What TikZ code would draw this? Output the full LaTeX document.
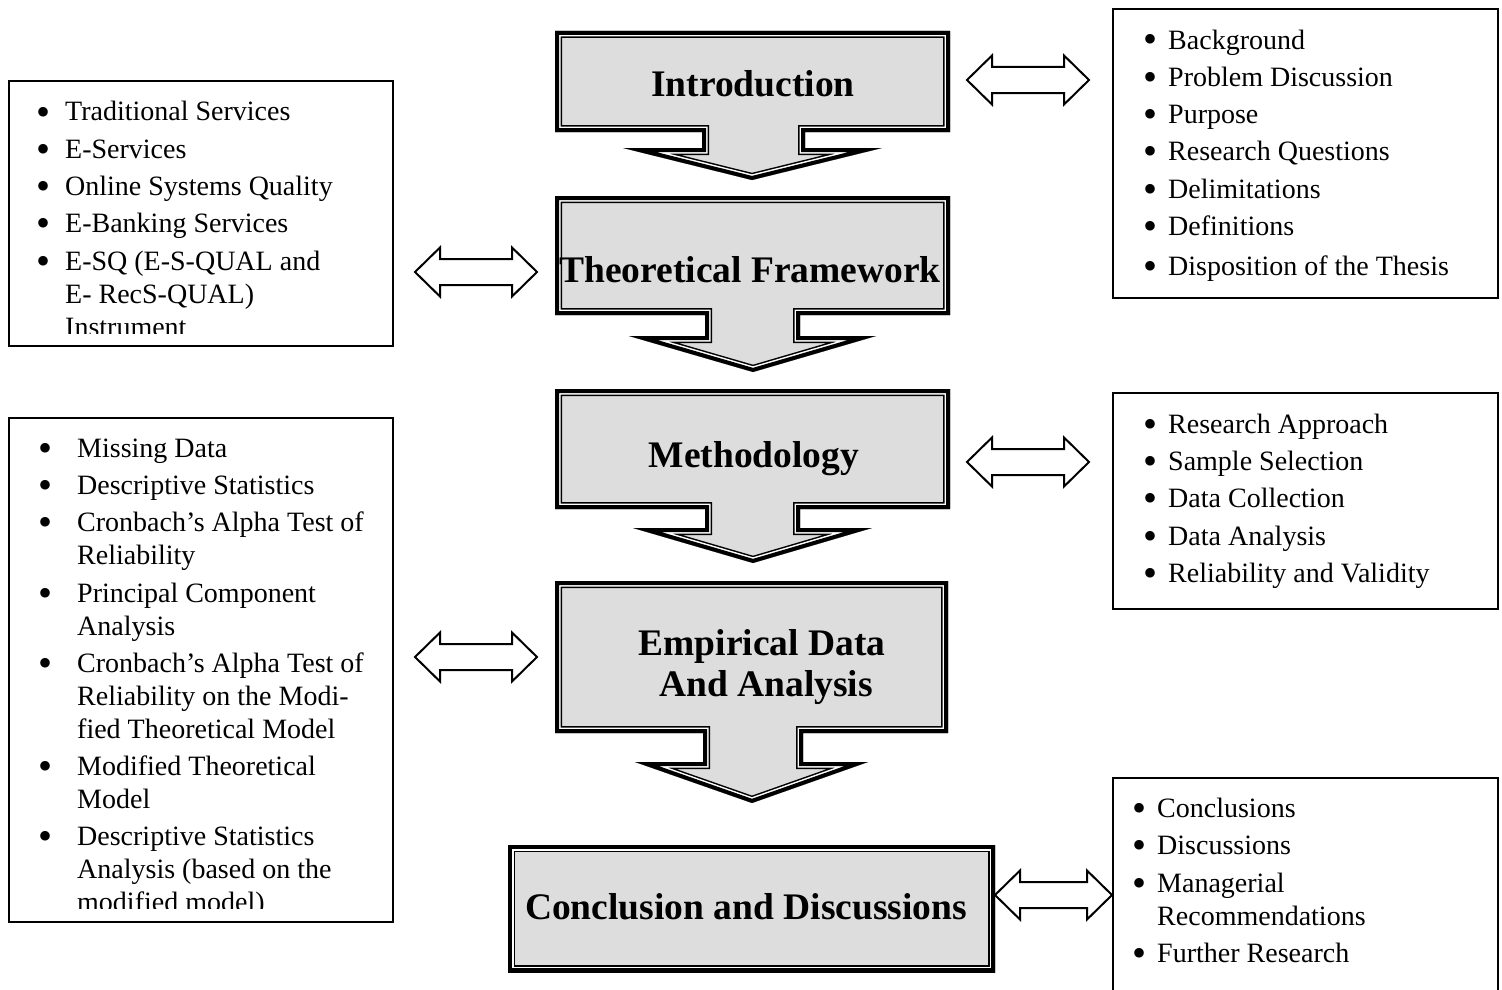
\documentclass[tikz,border=0pt]{standalone}
\usepackage{fontspec}
\setmainfont{Liberation Serif}
\definecolor{panelgray}{RGB}{221,221,221}
\tikzset{
  item/.style={anchor=base west, inner sep=0, font=\fontsize{28}{33}\selectfont},
  bulletdot/.style={anchor=base west, inner sep=0, font=\fontsize{40}{40}\selectfont, yshift=-4pt},
  title/.style={anchor=base, inner sep=0, font=\fontsize{37.5}{42}\selectfont\bfseries},
  listbox/.style={draw, line width=1.6pt, fill=white, anchor=north west, inner sep=0},
  blockarrow/.style={draw, line width=2pt, fill=white, line join=miter},
}
% grey panel with a heavy outer rule and a thin inner rule
\newcommand\stagepanel[1]{%
  \fill[panelgray] #1;
  \begin{scope}
    \clip #1;
    \draw[line width=14pt, line join=miter] #1;
    \draw[white, line width=11pt, line join=miter] #1;
    \draw[line width=8pt, line join=miter] #1;
  \end{scope}}
% hollow two-headed block arrow between x1 and x2 at height yc
\newcommand\twoway[3]{%
  \draw[blockarrow] (#1,#3) -- ({#1+25},{#3-24.5}) -- ({#1+25},{#3-13})
    -- ({#2-25},{#3-13}) -- ({#2-25},{#3-24.5}) -- (#2,#3)
    -- ({#2-25},{#3+24.5}) -- ({#2-25},{#3+13}) -- ({#1+25},{#3+13})
    -- ({#1+25},{#3+24.5}) -- cycle;}
\begin{document}
\begin{tikzpicture}[x=1pt, y=-1pt]
\useasboundingbox (0,0) rectangle (1502,990);

% ---------- stage panels ----------
\stagepanel{(555,31) -- (950,31) -- (950,132) -- (805,132) -- (805,148) -- (882,148) -- (752,180) -- (623,148) -- (702,148) -- (702,132) -- (555,132) -- cycle}
\stagepanel{(555,196) -- (950,196) -- (950,315) -- (800,315) -- (800,336) -- (876,336) -- (753,372) -- (629,336) -- (705,336) -- (705,315) -- (555,315) -- cycle}
\stagepanel{(555,389) -- (950,389) -- (950,509) -- (800,509) -- (800,528) -- (872,528) -- (753,563) -- (633,528) -- (705,528) -- (705,509) -- (555,509) -- cycle}
\stagepanel{(555,581) -- (948,581) -- (948,733) -- (803,733) -- (803,762) -- (868,762) -- (752,803) -- (635,762) -- (703,762) -- (703,733) -- (555,733) -- cycle}
\stagepanel{(508,845) rectangle (995,972)}

\node[title] (intro) at (753,96) {Introduction};
\node[title] (theory) at (750,282) {Theoretical Framework};
\node[title] (method) at (754,467) {Methodology};
\node[title] (empA) at (762,655) {Empirical Data};
\node[title] (empB) at (766,696) {And Analysis};
\node[title] (concl) at (746,919) {Conclusion and Discussions};

% ---------- two-way arrows ----------
\twoway{415}{537}{272}
\twoway{967}{1089}{80}
\twoway{967}{1089}{462}
\twoway{415}{537}{657}
\twoway{995}{1112}{895}

% ---------- list boxes ----------
\node[listbox, minimum width=385pt, minimum height=289pt] (rb1) at (1112,8) {};
\node[listbox, minimum width=385pt, minimum height=216pt] (rb2) at (1112,392) {};
\node[listbox, minimum width=385pt, minimum height=230pt] (rb3) at (1112,777) {};
\node[listbox, minimum width=384pt, minimum height=265pt] (lb1) at (8,80) {};
\node[listbox, minimum width=384pt, minimum height=504pt] (lb2) at (8,417) {};

% right: introduction topics
\foreach \y/\b/\t [count=\i] in {49/1/Background, 86/1/Problem Discussion, 123/1/Purpose,
    160/1/Research Questions, 198/1/Delimitations, 235/1/Definitions,
    275/1/Disposition of the Thesis} {
  \ifnum\b=1 \node[bulletdot] (rb1b\i) at (1143,\y) {\textbullet}; \fi
  \node[item] (rb1t\i) at (1168,\y) {\t};
}
% right: methodology topics
\foreach \y/\b/\t [count=\i] in {433/1/Research Approach, 470/1/Sample Selection,
    507/1/Data Collection, 545/1/Data Analysis, 582/1/Reliability and Validity} {
  \ifnum\b=1 \node[bulletdot] (rb2b\i) at (1143,\y) {\textbullet}; \fi
  \node[item] (rb2t\i) at (1168,\y) {\t};
}
% right: conclusion topics
\foreach \y/\b/\t [count=\i] in {817/1/Conclusions, 854/1/Discussions, 892/1/Managerial,
    925/0/Recommendations, 962/1/Further Research} {
  \ifnum\b=1 \node[bulletdot] (rb3b\i) at (1132,\y) {\textbullet}; \fi
  \node[item] (rb3t\i) at (1157,\y) {\t};
}
% left: theoretical framework topics (last line runs past the box)
\begin{scope}
  \clip (8,80) rectangle (392,333);
  \foreach \y/\b/\t [count=\i] in {121/1/Traditional Services, 158/1/E-Services,
      195/1/Online Systems Quality, 232/1/E-Banking Services,
      270/1/E-SQ (E-S-QUAL and, 303/0/E- RecS-QUAL), 336/0/Instrument} {
    \ifnum\b=1 \node[bulletdot] (lb1b\i) at (36,\y) {\textbullet}; \fi
    \node[item] (lb1t\i) at (65,\y) {\t};
  }
\end{scope}
% left: empirical analysis topics (last line runs past the box)
\begin{scope}
  \clip (8,417) rectangle (392,908);
  \foreach \y/\b/\t [count=\i] in {457/1/Missing Data, 494/1/Descriptive Statistics,
      531/1/Cronbach’s Alpha Test of, 564/0/Reliability,
      602/1/Principal Component, 635/0/Analysis,
      672/1/Cronbach’s Alpha Test of, 705/0/Reliability on the Modi-,
      738/0/fied Theoretical Model, 775/1/Modified Theoretical, 808/0/Model,
      845/1/Descriptive Statistics, 878/0/Analysis (based on the,
      911/0/modified model)} {
    \ifnum\b=1 \node[bulletdot] (lb2b\i) at (38,\y) {\textbullet}; \fi
    \node[item] (lb2t\i) at (77,\y) {\t};
  }
\end{scope}
\end{tikzpicture}
\end{document}
